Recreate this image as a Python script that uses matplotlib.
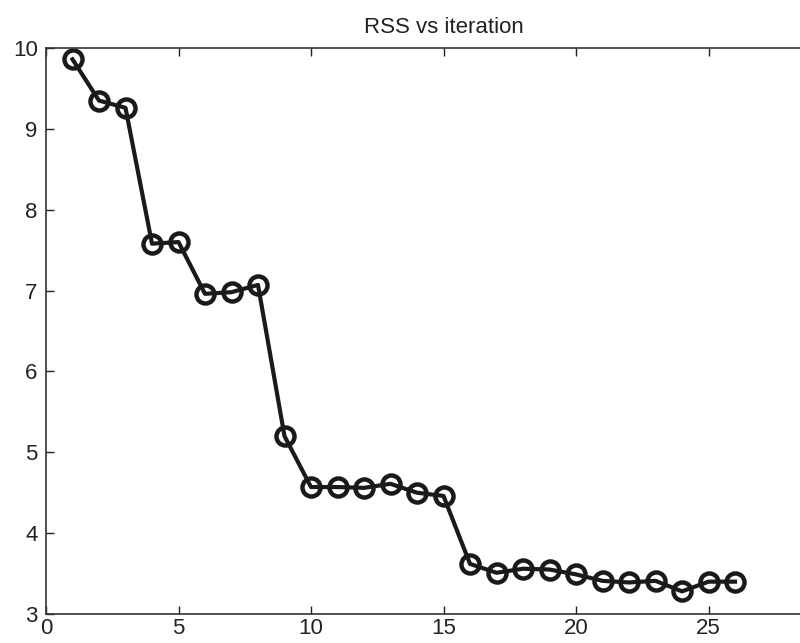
import matplotlib.pyplot as plt

iteration = list(range(1, 27))
rss = [9.86, 9.35, 9.26, 7.58, 7.60, 6.96, 6.98, 7.07, 5.20, 4.57,
       4.57, 4.56, 4.61, 4.50, 4.46, 3.62, 3.51, 3.56, 3.55, 3.49,
       3.41, 3.39, 3.41, 3.28, 3.40, 3.40]

plt.rcParams['font.family'] = ['Liberation Sans', 'DejaVu Sans']

fig = plt.figure(figsize=(8, 6.43), dpi=100)
# axes run past the right edge, like the cropped original
ax = fig.add_axes([46 / 800, 1 - 614 / 643, 795 / 800, 566 / 643])

ax.plot(iteration, rss, color='#1a1a1a', linewidth=3, marker='o',
        markersize=13, markerfacecolor='none', markeredgewidth=3.2,
        markeredgecolor='#1a1a1a')

ax.set_xlim(0, 30)
ax.set_ylim(3, 10)
ax.set_xticks([0, 5, 10, 15, 20, 25, 30])
ax.set_xticklabels(['0', '5', '10', '15', '20', '25', ''])
ax.set_yticks([3, 4, 5, 6, 7, 8, 9, 10])
ax.tick_params(direction='in', length=6, width=1, labelsize=16,
               top=True, right=True, colors='#222222')
ax.tick_params(axis='y', pad=6)
ax.tick_params(axis='x', pad=3)
for s in ax.spines.values():
    s.set_linewidth(1.2)
    s.set_color('#333333')

ax.set_title('RSS vs iteration', fontsize=16, pad=11, color='#222222')

fig.savefig('out.png', dpi=100)
